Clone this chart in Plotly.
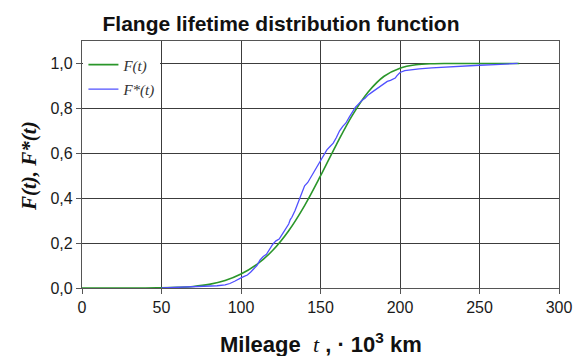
import plotly.graph_objects as go

# Theoretical distribution function F(t)
t_theor = [0, 40, 50, 60, 70, 80, 90, 100, 110, 120, 130, 140, 150, 160, 170,
           180, 190, 200, 210, 220, 230, 250, 275]
F_theor = [0.0, 0.0002, 0.001, 0.003, 0.007, 0.016, 0.033, 0.062, 0.105, 0.168,
           0.255, 0.367, 0.499, 0.639, 0.769, 0.873, 0.943, 0.979, 0.994, 0.999,
           1.0, 1.0, 1.0]

t_emp = [50, 55, 60, 65, 70, 75, 80, 85, 90, 93, 96, 98, 100, 102, 104, 106, 108,
         110, 112, 114, 116, 118, 120, 122, 124, 126, 128, 130, 131, 132, 134, 136,
         138, 140, 142, 144, 146, 148, 150, 152, 154, 156, 158, 160, 162, 164, 166,
         168, 170, 172, 174, 176, 178, 180, 182, 184, 186, 188, 190, 192, 194, 196,
         197, 198, 199, 200, 203, 207, 212, 220, 230, 240, 250, 260, 274]
F_emp = [0.000, 0.001, 0.002, 0.003, 0.004, 0.005, 0.007, 0.010, 0.014, 0.020,
         0.030, 0.036, 0.045, 0.052, 0.058, 0.070, 0.085, 0.100, 0.125, 0.140,
         0.150, 0.172, 0.195, 0.210, 0.218, 0.240, 0.262, 0.285, 0.305, 0.315,
         0.345, 0.385, 0.420, 0.455, 0.470, 0.495, 0.515, 0.540, 0.570, 0.590,
         0.615, 0.630, 0.645, 0.670, 0.700, 0.720, 0.735, 0.760, 0.785, 0.805,
         0.820, 0.835, 0.845, 0.860, 0.870, 0.880, 0.890, 0.900, 0.912, 0.920,
         0.925, 0.930, 0.935, 0.945, 0.955, 0.960, 0.968, 0.972, 0.976, 0.980,
         0.985, 0.989, 0.992, 0.995, 1.0]

x_ticks = [0, 50, 100, 150, 200, 250, 300]
y_ticks = [0.0, 0.2, 0.4, 0.6, 0.8, 1.0]

fig = go.Figure()
fig.add_trace(go.Scatter(x=t_theor, y=F_theor, mode="lines", name="<i>F(t)</i>",
                         line=dict(color="#2a962a", width=1.6, shape="spline"),
                         legendgroup="a"))
fig.add_trace(go.Scatter(x=t_emp, y=F_emp, mode="lines", name="<i>F*(t)</i>",
                         line=dict(color="#5050ff", width=1.3),
                         legendgroup="b"))

axis_common = dict(showgrid=True, gridcolor="#3c3c3c", gridwidth=1.1,
                   showline=True, linecolor="#555555", linewidth=1.3, mirror=True,
                   ticks="outside", ticklen=5, tickcolor="#555555", tickwidth=1.3,
                   zeroline=False, automargin=False,
                   tickfont=dict(family="Arial, Liberation Sans", size=16, color="#1a1a1a"))

fig.update_layout(
    width=576, height=356,
    margin=dict(l=82, r=17, t=41, b=68, autoexpand=False),
    paper_bgcolor="white", plot_bgcolor="white",
    separators=", ",
    title=dict(text="<b>Flange lifetime distribution function</b>",
               x=281/576, xanchor="center", y=1-24/356, yanchor="middle",
               font=dict(family="Arial, Liberation Sans", size=21, color="#111")),
    xaxis=dict(range=[0, 300], tickvals=x_ticks, **axis_common),
    yaxis=dict(range=[0, 1.1], tickvals=y_ticks, tickformat=".1f", **axis_common),
    showlegend=True,
    legend=dict(x=0.003, y=0.97, xanchor="left", yanchor="top",
                bgcolor="white", borderwidth=0, traceorder="grouped",
                tracegroupgap=2,
                font=dict(family="Liberation Serif, Times New Roman", size=15, color="#333")),
    annotations=[
        dict(text="<b>Mileage  </b><span style='font-family:Liberation Serif'><i>t</i></span><b> , · 10<sup>3</sup> km</b>",
             xref="paper", yref="paper", x=0.5, y=-(343-288)/247,
             xanchor="center", yanchor="middle", showarrow=False,
             font=dict(family="Arial, Liberation Sans", size=22, color="#111")),
        dict(text="<b><i>F(t), F*(t)</i></b>",
             xref="paper", yref="paper", x=(29-82)/477, y=(288-166)/247,
             xanchor="center", yanchor="middle", textangle=-90, showarrow=False,
             font=dict(family="Liberation Serif, Times New Roman", size=21, color="#111")),
    ],
)

fig.write_html("out.html")
